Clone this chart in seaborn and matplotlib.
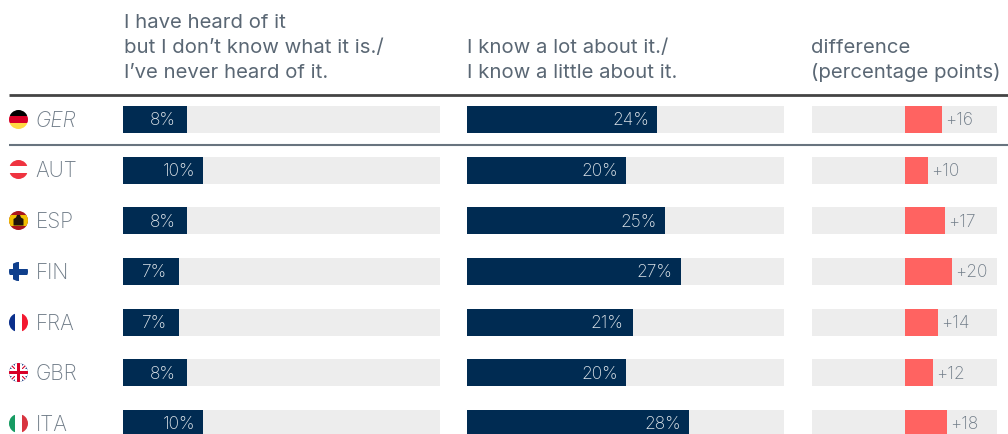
import matplotlib
matplotlib.use("Agg")
import matplotlib.pyplot as plt
from matplotlib.patches import Circle, Rectangle, Polygon
import pandas as pd
import seaborn as sns

countries = ["GER", "AUT", "ESP", "FIN", "FRA", "GBR", "ITA"]
unknown_pct = [8, 10, 8, 7, 7, 8, 10]
known_pct = [24, 20, 25, 27, 21, 20, 28]
difference = [16, 10, 17, 20, 14, 12, 18]

NAVY = "#002b52"
TRACK = "#ededed"
CORAL = "#ff6361"
GREY_TEXT = "#6f7b87"
HEAD_TEXT = "#5a6774"

W, H = 1008, 434
sns.set_theme(style="white")
plt.rcParams["font.family"] = ["Inter", "DejaVu Sans"]
plt.rcParams["font.weight"] = "light"

fig = plt.figure(figsize=(W / 100, H / 100), dpi=100, facecolor="white")


def panel_axes(x0, x1, xlim):
    ax = fig.add_axes([x0 / W, 0, (x1 - x0) / W, 1])
    ax.set_xlim(*xlim)
    ax.axis("off")
    return ax


def row_limits(ax):
    # rows sit about 50.67 px apart, with the first centred at y = 119.5 px
    ax.set_ylim((H - 119.5) / 50.67, -119.5 / 50.67)


def hbars(ax, values, color):
    frame = pd.DataFrame({"country": countries, "value": values})
    sns.barplot(data=frame, y="country", x="value", order=countries, orient="h",
                color=color, saturation=1, width=27 / 50.67, ax=ax, linewidth=0)
    ax.axis("off")


FS = 12.5
VALUE_DY = 0.025

# Panel 1: not familiar with the term
ax1 = panel_axes(123, 440, (0, 39.6))
hbars(ax1, [39.6] * 7, TRACK)
hbars(ax1, unknown_pct, NAVY)
ax1.set_xlim(0, 39.6)
row_limits(ax1)
for i, v in enumerate(unknown_pct):
    ax1.text(v - 3.05, i + VALUE_DY, f"{v}%", color="#dfe5ea", fontsize=FS, ha="center", va="center")

# Panel 2: familiar with the term
ax2 = panel_axes(467, 784, (0, 40))
hbars(ax2, [40] * 7, TRACK)
hbars(ax2, known_pct, NAVY)
ax2.set_xlim(0, 40)
row_limits(ax2)
for i, v in enumerate(known_pct):
    ax2.text(v - 3.3, i + VALUE_DY, f"{v}%", color="#dfe5ea", fontsize=FS, ha="center", va="center")

# Panel 3: difference in percentage points, bars start from the centre of the track
ax3 = panel_axes(812, 997, (-39.5, 39.2))
hbars(ax3, [39.2] * 7, TRACK)
hbars(ax3, [-39.5] * 7, TRACK)
hbars(ax3, difference, CORAL)
ax3.set_xlim(-39.5, 39.2)
row_limits(ax3)
for i, v in enumerate(difference):
    ax3.text(v + 1.3, i + VALUE_DY, f"+{v}", color=GREY_TEXT, fontsize=FS, ha="left", va="center")

# Overlay in pixel units for rules, column headers, country labels and flags
ov = fig.add_axes([0, 0, 1, 1], zorder=5)
ov.set_xlim(0, W)
ov.set_ylim(H, 0)
ov.axis("off")
ov.patch.set_alpha(0)

ov.plot([9, W], [94.8, 94.8], color="#444444", lw=2.0, solid_capstyle="butt")
ov.plot([9, W], [144.7, 144.7], color="#68747f", lw=1.5, solid_capstyle="butt")

HFS = 14.65
for x, lines in [(124, ["I have heard of it", "but I don’t know what it is./", "I’ve never heard of it."]),
                 (467, ["I know a lot about it./", "I know a little about it."]),
                 (811, ["difference", "(percentage points)"])]:
    for k, line in enumerate(reversed(lines)):
        ov.text(x, 78 - 25 * k, line, color=HEAD_TEXT, fontsize=HFS, fontweight="normal",
                ha="left", va="baseline")

row_y = [119.5, 169.5, 220.5, 271.5, 322.5, 372.5, 423.5]
for c, y in zip(countries, row_y):
    ov.text(35 if c in ("AUT", "GER") else 36, y + 1.5, c, color=GREY_TEXT, fontsize=15, ha="left", va="center",
            style="italic" if c == "GER" else "normal")


def flag(cx, cy, parts, r=9.5):
    clip = Circle((cx, cy), r, transform=ov.transData)
    for p in parts:
        ov.add_patch(p)
        p.set_clip_path(clip)


def rect(x, y, w, h, color):
    return Rectangle((x, y), w, h, facecolor=color, edgecolor="none")


def stripes_h(cx, cy, colors, r=9.5):
    n = len(colors)
    return [rect(cx - r, cy - r + 2 * r * k / n, 2 * r, 2 * r / n, c) for k, c in enumerate(colors)]


def stripes_v(cx, cy, colors, r=9.5):
    n = len(colors)
    return [rect(cx - r + 2 * r * k / n, cy - r, 2 * r / n, 2 * r, c) for k, c in enumerate(colors)]


fx = 18.5
flag(fx, row_y[0], stripes_h(fx, row_y[0], ["#000000", "#d80027", "#ffda44"]))
flag(fx, row_y[1], stripes_h(fx, row_y[1], ["#ef3340", "#ffffff", "#ef3340"]))

y = row_y[2]
flag(fx, y, [rect(fx - 10, y - 10, 20, 20, "#aa151b"), rect(fx - 10, y - 5.5, 20, 11, "#f1bf00")])
ov.add_patch(Polygon([(fx - 5, y + 5), (fx - 5, y - 1.5), (fx - 2.5, y - 3), (fx - 1.5, y - 5.5),
                      (fx + 1.5, y - 5.5), (fx + 2.5, y - 3), (fx + 5, y - 1.5), (fx + 5, y + 5)],
                     facecolor="#20150a", edgecolor="none"))

y = row_y[3]
flag(fx, y, [rect(fx - 10, y - 3, 20, 6, "#0f3f8c"), rect(fx - 6, y - 10, 6.5, 20, "#0f3f8c")])

flag(fx, row_y[4], stripes_v(fx, row_y[4], ["#0a2f8c", "#ffffff", "#f31830"]))

y = row_y[5]
uk = [rect(fx - 10, y - 10, 20, 20, "#2f4a8c")]
for sign in (1, -1):
    uk.append(Polygon([(fx - 10, y - 10 * sign - 3), (fx - 10, y - 10 * sign + 3),
                       (fx + 10, y + 10 * sign + 3), (fx + 10, y + 10 * sign - 3)],
                      facecolor="#ffffff", edgecolor="none"))
    uk.append(Polygon([(fx - 10, y - 10 * sign - 0.8), (fx - 10, y - 10 * sign + 0.8),
                       (fx + 10, y + 10 * sign + 0.8), (fx + 10, y + 10 * sign - 0.8)],
                      facecolor="#d80027", edgecolor="none"))
uk += [rect(fx - 10, y - 3.5, 20, 7, "#ffffff"), rect(fx - 3.5, y - 10, 7, 20, "#ffffff"),
       rect(fx - 10, y - 1.9, 20, 3.8, "#d80027"), rect(fx - 1.9, y - 10, 3.8, 20, "#d80027")]
flag(fx, y, uk)

flag(fx, row_y[6], stripes_v(fx, row_y[6], ["#169b62", "#ffffff", "#d8343f"]))

fig.savefig("out.png", dpi=100, facecolor="white")
